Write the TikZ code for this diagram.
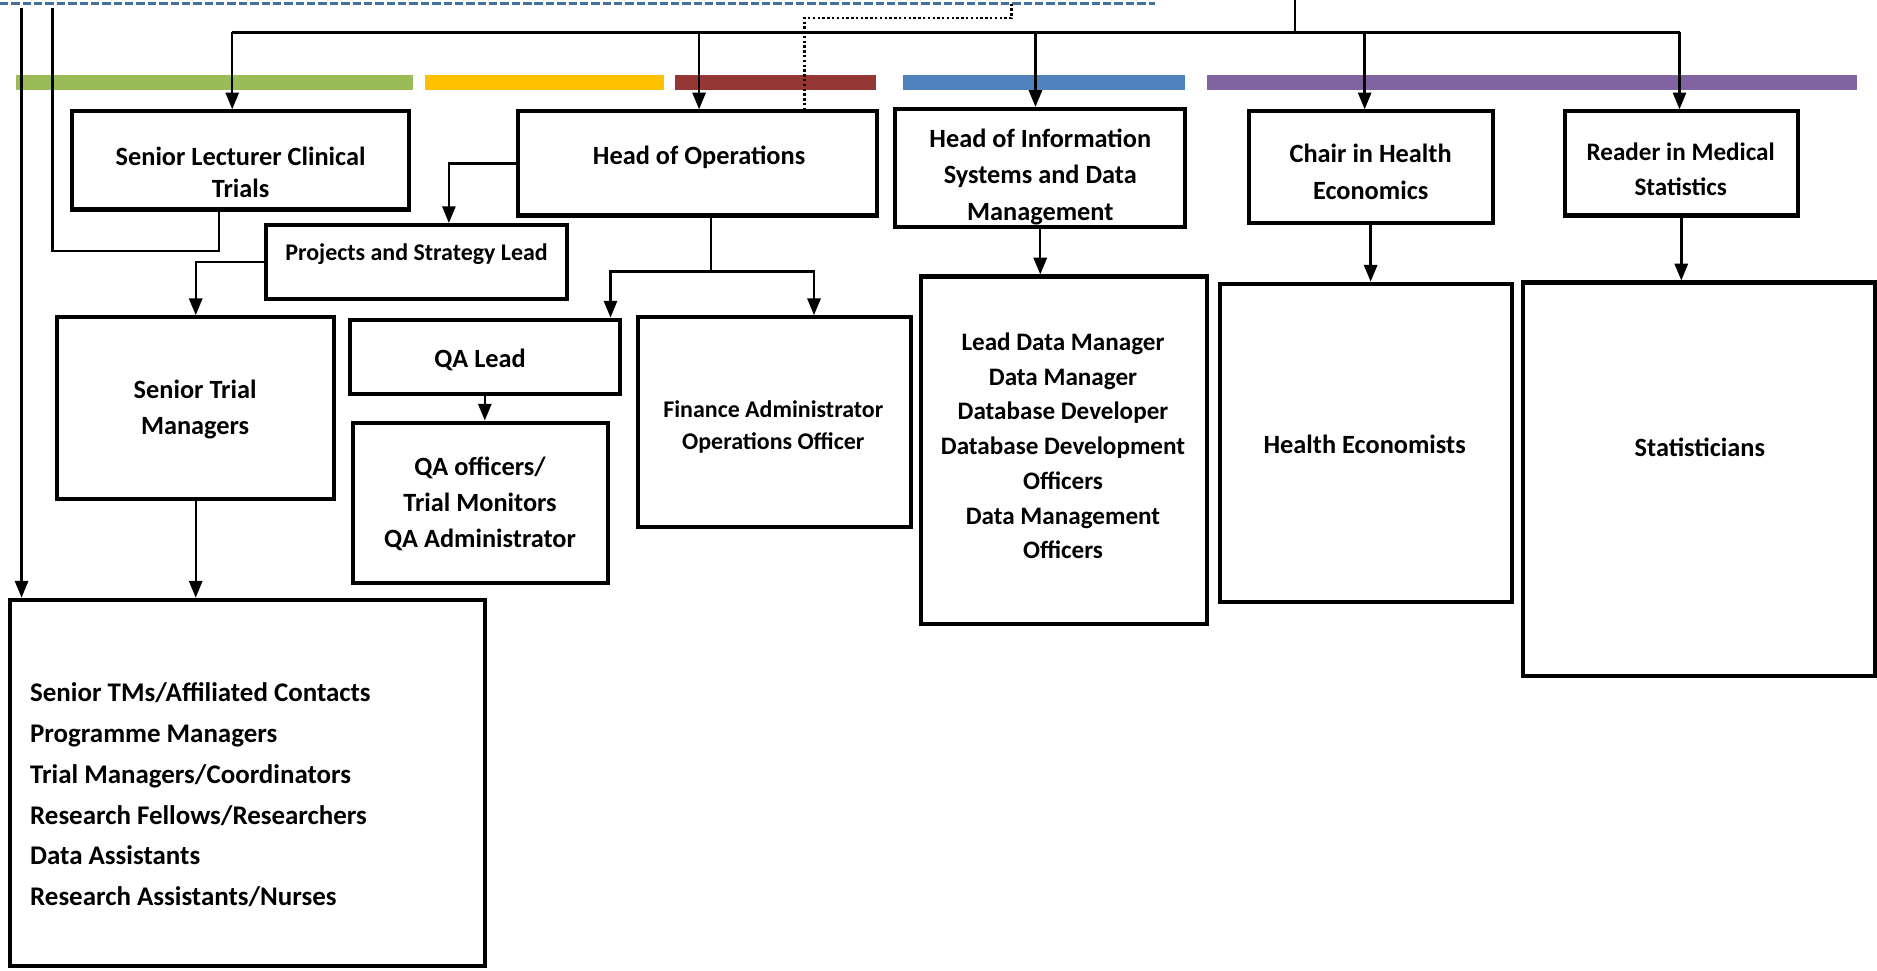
\documentclass[tikz,border=0pt]{standalone}
\usepackage{fontspec}
\setmainfont{Carlito}
\usepackage{xcolor}
\usepackage{tikz}
\usetikzlibrary{calc}
\usetikzlibrary{arrows.meta}
\definecolor{Cgreen}{HTML}{9BBB59}
\definecolor{Cyellow}{HTML}{FFC000}
\definecolor{Cred}{HTML}{953735}
\definecolor{Cblue}{HTML}{4F81BD}
\definecolor{Cpurple}{HTML}{8064A2}
\definecolor{Cdash}{HTML}{41719C}
\newcommand{\fnt}[2]{\bfseries\fontsize{#1}{#2}\selectfont}
\tikzset{
  box/.style={draw, line width=3.4pt, inner sep=0pt},
  txt/.style={align=center, inner sep=0pt, font=\fnt{22}{30}},
  link/.style={line width=2pt},
  arr/.style={link, -{Triangle[width=11pt,length=14pt]}},
  bar/.style={line width=12pt},
}

\begin{document}
\begin{tikzpicture}[x=1pt,y=-1pt]
\useasboundingbox (0,0) rectangle (1568,811);
\def \ytop {27}
\def \ybar {69}
% colour bars
\draw[bar, Cgreen] (13,\ybar) -- (345,\ybar);
\draw[bar, Cyellow] (355,\ybar) -- (555,\ybar);
\draw[bar, Cred] (564,\ybar) -- (732,\ybar);
\draw[bar, Cblue] (754,\ybar) -- (990,\ybar);
\draw[bar, Cpurple] (1008,\ybar) -- (1551,\ybar);
\draw[Cdash, line width=2pt, dash pattern=on 7pt off 2.5pt] (0,3) coordinate (dashL) -- (965,3) coordinate (dashR);
% boxes
\node[box, minimum width=282pt, minimum height=82pt] (slct) at (201,134) {};
\node[box, minimum width=300pt, minimum height=87pt] (hoo) at (583,136.5) {};
\node[box, minimum width=252pt, minimum height=62pt] (psl) at (348,219) {};
\node[box, minimum width=242pt, minimum height=99pt] (his) at (869,140.5) {};
\node[box, minimum width=204pt, minimum height=93pt] (che) at (1145,139.5) {};
\node[box, minimum width=195pt, minimum height=87pt] (rms) at (1404.5,136.5) {};
\node[box, minimum width=231pt, minimum height=152pt] (stm) at (163.5,341) {};
\node[box, minimum width=226pt, minimum height=62pt] (qal) at (405,298) {};
\node[box, minimum width=213pt, minimum height=134pt] (qao) at (401.5,420) {};
\node[box, minimum width=228pt, minimum height=175pt] (fin) at (647,352.5) {};
\node[box, minimum width=239pt, minimum height=290pt] (dm) at (888.5,376) {};
\node[box, minimum width=244pt, minimum height=266pt] (he) at (1141,370) {};
\node[box, minimum width=294pt, minimum height=329pt] (st) at (1419,400.5) {};
\node[box, minimum width=397pt, minimum height=306pt] (bot) at (206.5,654) {};
% texts
\node[txt, font=\fnt{22}{26}] (slct-t) at (201,144) {Senior Lecturer Clinical\\Trials};
\node[txt] (hoo-t) at (584,131) {Head of Operations};
\node[txt, font=\fnt{20}{26}] (psl-t) at (348,212) {Projects and Strategy Lead};
\node[txt, font=\fnt{22}{30.5}] (his-t) at (869,147.5) {Head of Information\\Systems and Data\\Management};
\node[txt, font=\fnt{22}{31}] (che-t) at (1145,143.5) {Chair in Health\\Economics};
\node[txt, font=\fnt{21}{29}] (rms-t) at (1404,141.5) {Reader in Medical\\Statistics};
\node[txt] (stm-t) at (163,342) {Senior Trial\\Managers};
\node[txt] (qal-t) at (401,301) {QA Lead};
\node[txt] (qao-t) at (401,421) {QA officers/\\Trial Monitors\\QA Administrator};
\node[txt, font=\fnt{20}{27}] (fin-t) at (646,356.5) {Finance Administrator\\Operations Officer};
\node[txt, font=\fnt{21}{29}] (dm-t) at (888,372.5) {Lead Data Manager\\Data Manager\\Database Developer\\Database Development\\Officers\\Data Management\\Officers};
\node[txt] (he-t) at (1140,371) {Health Economists};
\node[txt] (st-t) at (1420,374) {Statisticians};
\node[txt, align=left, anchor=west, font=\fnt{22.5}{34}] (bot-t) at (25,664) {Senior TMs/Affiliated Contacts\\Programme Managers\\Trial Managers/Coordinators\\Research Fellows/Researchers\\Data Assistants\\Research Assistants/Nurses};
% top level links
\coordinate (topC) at (1082,0);
\coordinate (t1) at (194,\ytop);
\coordinate (t2) at (584,\ytop);
\coordinate (t3) at (865,\ytop);
\coordinate (t4) at (1140,\ytop);
\coordinate (t5) at (1403,\ytop);
\draw[link] (topC) -- (topC |- t1);
\draw[link] (t1) -- (t5);
\draw[arr] (t1) -- (t1 |- slct.north);
\draw[arr] (t2) -- (t2 |- hoo.north);
\draw[arr] (t3) -- (t3 |- his.north);
\draw[arr] (t4) -- (t4 |- che.north);
\draw[arr] (t5) -- (t5 |- rms.north);
\draw[link, dotted, line width=2pt] (845,3) -- (845,15) -| ([xshift=89pt]hoo.north);
% left side
\coordinate (edgeA) at (18,7);
\coordinate (edgeB) at (44,7);
\draw[arr] (edgeA) -- (edgeA |- bot.north);
\draw[link] ([xshift=-18pt]slct.south) -- ++(0,33) -| (edgeB);
\draw[arr] (hoo.west) -| ([xshift=27pt]psl.north);
\draw[arr] (psl.west) -| (stm.north);
\draw[arr] (stm.south) -- (stm.south |- bot.north);
% operations
\draw[link] ([xshift=11pt]hoo.south) -- ++(0,45) coordinate (split);
\draw[arr] (split) -| ([xshift=105pt]qal.north);
\draw[arr] (split) -| ([xshift=33pt]fin.north);
\draw[arr] (qal.south) -- (qal.south |- qao.north);
% other groups
\draw[arr] (his.south) -- (his.south |- dm.north);
\draw[arr] (che.south) -- (che.south |- he.north);
\draw[arr] (rms.south) -- (rms.south |- st.north);
\end{tikzpicture}
\end{document}
